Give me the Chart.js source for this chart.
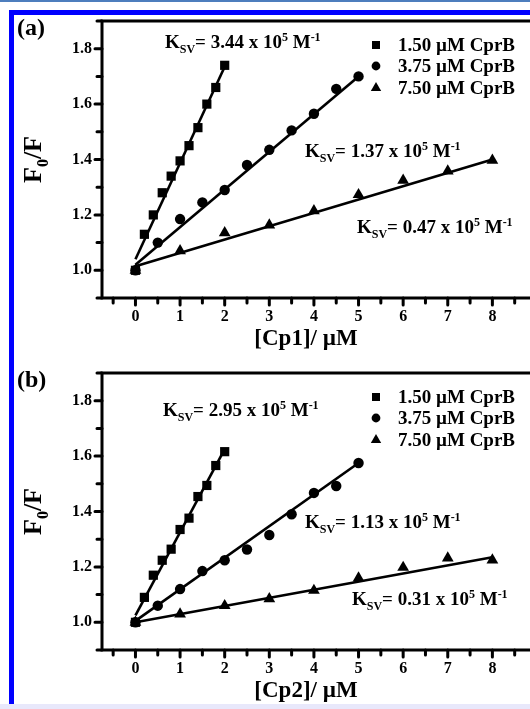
<!DOCTYPE html>
<html>
<head>
<meta charset="utf-8">
<script src="https://cdn.jsdelivr.net/npm/chart.js@4.4.1/dist/chart.umd.min.js"></script>
<style>
    html, body { margin: 0; padding: 0; }
    body { width: 530px; height: 709px; overflow: hidden; position: relative; background: #fff; }
    #topLine { position: absolute; left: 0; top: 0; width: 530px; height: 2px; background: #4d7ebd; }
    #frame { position: absolute; left: 9px; top: 10px; width: 540px; height: 700px;
             border-left: 5px solid #0000ff; border-top: 5px solid #0000ff; }
    #bottomBand { position: absolute; left: 0; top: 704px; width: 530px; height: 5px; background: #e8e8fb; }
    canvas { position: absolute; left: 0; }
</style>
</head>
<body>
<div id="topLine"></div>
<div id="frame"></div>
<canvas id="chartA" width="545" height="350" style="top:0"></canvas>
<canvas id="chartB" width="545" height="350" style="top:352px"></canvas>
<div id="bottomBand"></div>
<script>
    //== DỮ LIỆU ==
    const concSquare = [0, 0.2, 0.4, 0.6, 0.8, 1.0, 1.2, 1.4, 1.6, 1.8, 2.0];
    const concCircle = [0, 0.5, 1, 1.5, 2, 2.5, 3, 3.5, 4, 4.5, 5];
    const concTriangle = [0, 1, 2, 3, 4, 5, 6, 7, 8];

    // (a) Cp1
    const squareA = [1.00, 1.13, 1.20, 1.28, 1.34, 1.395, 1.45, 1.515, 1.60, 1.66, 1.74];
    const circleA = [1.00, 1.10, 1.185, 1.245, 1.29, 1.38, 1.435, 1.505, 1.565, 1.655, 1.70];
    const triangleA = [1.00, 1.07, 1.135, 1.163, 1.215, 1.273, 1.325, 1.358, 1.397];
    const fitA = [[1.04, 1.735], [1.02, 1.70], [1.015, 1.40]]; // đầu / cuối đường fit

    // (b) Cp2
    const squareB = [1.00, 1.09, 1.17, 1.224, 1.264, 1.335, 1.376, 1.454, 1.494, 1.566, 1.616];
    const circleB = [1.00, 1.06, 1.12, 1.185, 1.224, 1.263, 1.315, 1.39, 1.467, 1.492, 1.575];
    const triangleB = [1.00, 1.03, 1.06, 1.085, 1.115, 1.16, 1.198, 1.232, 1.225];
    const fitB = [[1.025, 1.625], [1.005, 1.575], [1.0, 1.235]];

    const xTickLabels = [0, 1, 2, 3, 4, 5, 6, 7, 8];
    const yTickLabels = [1.0, 1.2, 1.4, 1.6, 1.8];
    const legendLabels = ['1.50 \u00b5M CprB', '3.75 \u00b5M CprB', '7.50 \u00b5M CprB'];
    const ksvA = ['3.44', '1.37', '0.47'];
    const ksvB = ['2.95', '1.13', '0.31'];

    const FONT = '"Liberation Serif", "Times New Roman", serif';
    const styles = ['rect', 'circle', 'triangle'];
    const radii = [6.5, 5.2, 6.8];

    // vẽ chữ có chỉ số trên / dưới
    function drawRich(ctx, parts, x, y, size) {
        ctx.textAlign = 'left';
        ctx.textBaseline = 'alphabetic';
        parts.forEach(function (p) {
            const fs = p[1] ? Math.round(size * 0.62) : size;
            ctx.font = 'bold ' + fs + 'px ' + FONT;
            const dy = p[1] === 1 ? -size * 0.36 : (p[1] === -1 ? size * 0.26 : 0);
            ctx.fillText(p[0], x, y + dy);
            x += ctx.measureText(p[0]).width;
        });
        return x;
    }
    function richWidth(ctx, parts, size) {
        let w = 0;
        parts.forEach(function (p) {
            const fs = p[1] ? Math.round(size * 0.62) : size;
            ctx.font = 'bold ' + fs + 'px ' + FONT;
            w += ctx.measureText(p[0]).width;
        });
        return w;
    }
    function ksvParts(v) {
        return [['K', 0], ['SV', -1], ['= ' + v + ' x 10', 0], ['5', 1], [' M', 0], ['-1', 1]];
    }

    // plugin vẽ khung trục, vạch chia, chú thích
    const framePlugin = {
        id: 'framePlugin',
        afterDraw(chart, args, opts) {
            const ctx = chart.ctx;
            const area = chart.chartArea;
            const xs = chart.scales.x, ys = chart.scales.y;
            ctx.save();
            ctx.strokeStyle = '#000';
            ctx.fillStyle = '#000';
            ctx.lineWidth = 3;
            ctx.lineCap = 'square';
            ctx.beginPath();
            ctx.moveTo(area.left, area.top);
            ctx.lineTo(area.left, area.bottom);
            ctx.lineTo(area.right, area.bottom);
            ctx.moveTo(area.left, area.top);
            ctx.lineTo(area.right, area.top);
            ctx.stroke();

            ctx.lineCap = 'round';
            ctx.lineWidth = 3;
            ctx.beginPath();
            for (let v = -0.5; v <= 9; v += 0.5) {
                const px = xs.getPixelForValue(v);
                const len = Number.isInteger(v) ? 7 : 5;
                ctx.moveTo(px, area.bottom);
                ctx.lineTo(px, area.bottom + len);
            }
            for (let i = 0; i <= 10; i++) {
                const v = 0.9 + i * 0.1;
                const py = ys.getPixelForValue(v);
                const len = (i % 2 === 1) ? 7 : 5;
                ctx.moveTo(area.left, py);
                ctx.lineTo(area.left - len, py);
            }
            ctx.stroke();

            // tiêu đề trục y: F0/F
            const yParts = [['F', 0], ['0', -1], ['/F', 0]];
            const yw = richWidth(ctx, yParts, 26);
            ctx.save();
            ctx.translate(opts.yTitleX, (area.top + area.bottom) / 2);
            ctx.rotate(-Math.PI / 2);
            drawRich(ctx, yParts, -yw / 2, 0, 26);
            ctx.restore();

            // tiêu đề trục x
            ctx.font = 'bold 23px ' + FONT;
            ctx.textAlign = 'center';
            ctx.textBaseline = 'middle';
            ctx.fillText(opts.xTitle, opts.xTitleX, opts.xTitleY);

            // nhãn (a)/(b)
            ctx.font = 'bold 24px ' + FONT;
            ctx.textAlign = 'left';
            ctx.fillText(opts.panel, 17, 29);

            // legend
            legendLabels.forEach(function (lab, i) {
                const y = opts.legendY[i];
                Chart.helpers.drawPoint(ctx, { pointStyle: styles[i], radius: radii[i] - 0.8, borderWidth: 0 }, 376, y);
                ctx.font = 'bold 19px ' + FONT;
                ctx.textAlign = 'left';
                ctx.textBaseline = 'middle';
                ctx.fillText(lab, 398, y + 1);
            });

            // K_SV
            opts.ksv.forEach(function (v, i) {
                const pos = opts.ksvPos[i];
                drawRich(ctx, ksvParts(v), pos[0], pos[1], 19);
            });
            ctx.restore();
        }
    };

    function makeSets(ys, fits) {
        const concs = [concSquare, concCircle, concTriangle];
        const sets = [];
        ys.forEach(function (vals, i) {
            sets.push({
                data: vals.map((v, k) => ({ x: concs[i][k], y: v })),
                pointStyle: styles[i],
                pointRadius: radii[i],
                backgroundColor: '#000',
                borderColor: '#000',
                borderWidth: 0,
                showLine: false
            });
        });
        fits.forEach(function (f, i) {
            const c = concs[i];
            sets.push({
                data: [{ x: c[0], y: f[0] }, { x: c[c.length - 1], y: f[1] }],
                showLine: true,
                pointRadius: 0,
                borderColor: '#000',
                borderWidth: 2.6
            });
        });
        return sets;
    }

    function drawPanel(id, ys, fits, opts) {
        const ctx = document.getElementById(id).getContext('2d');
        return new Chart(ctx, {
            type: 'scatter',
            data: { datasets: makeSets(ys, fits) },
            options: {
                responsive: false,
                animation: false,
                layout: { padding: { top: 21, right: 8, bottom: 0, left: 0 } },
                scales: {
                    x: {
                        type: 'linear', min: -0.75, max: 9,
                        afterFit: function (s) { s.height = 52; },
                        afterBuildTicks: function (s) { s.ticks = xTickLabels.map(v => ({ value: v })); },
                        grid: { display: false, drawTicks: false },
                        border: { display: false },
                        ticks: { color: '#000', padding: 9, autoSkip: false, maxRotation: 0,
                                 font: { family: FONT, size: 16, weight: 'bold' } }
                    },
                    y: {
                        type: 'linear', min: 0.9, max: 1.9,
                        afterFit: function (s) { s.width = 102; },
                        afterBuildTicks: function (s) { s.ticks = yTickLabels.map(v => ({ value: v })); },
                        grid: { display: false, drawTicks: false },
                        border: { display: false },
                        ticks: { color: '#000', padding: 10,
                                 callback: v => Number(v).toFixed(1),
                                 font: { family: FONT, size: 16, weight: 'bold' } }
                    }
                },
                plugins: {
                    legend: { display: false },
                    tooltip: { enabled: false },
                    framePlugin: opts
                }
            },
            plugins: [framePlugin]
        });
    }

    drawPanel('chartA', [squareA, circleA, triangleA], fitA, {
        panel: '(a)', xTitle: '[Cp1]/ \u00b5M', xTitleX: 306, xTitleY: 339, yTitleX: 41,
        legendY: [45, 66, 88], ksv: ksvA, ksvPos: [[165, 48], [305, 157], [357, 233]]
    });
    drawPanel('chartB', [squareB, circleB, triangleB], fitB, {
        panel: '(b)', xTitle: '[Cp2]/ \u00b5M', xTitleX: 306, xTitleY: 339, yTitleX: 41,
        legendY: [45, 66, 88], ksv: ksvB, ksvPos: [[163, 64], [305, 176], [352, 253]]
    });
</script>
</body>
</html>
